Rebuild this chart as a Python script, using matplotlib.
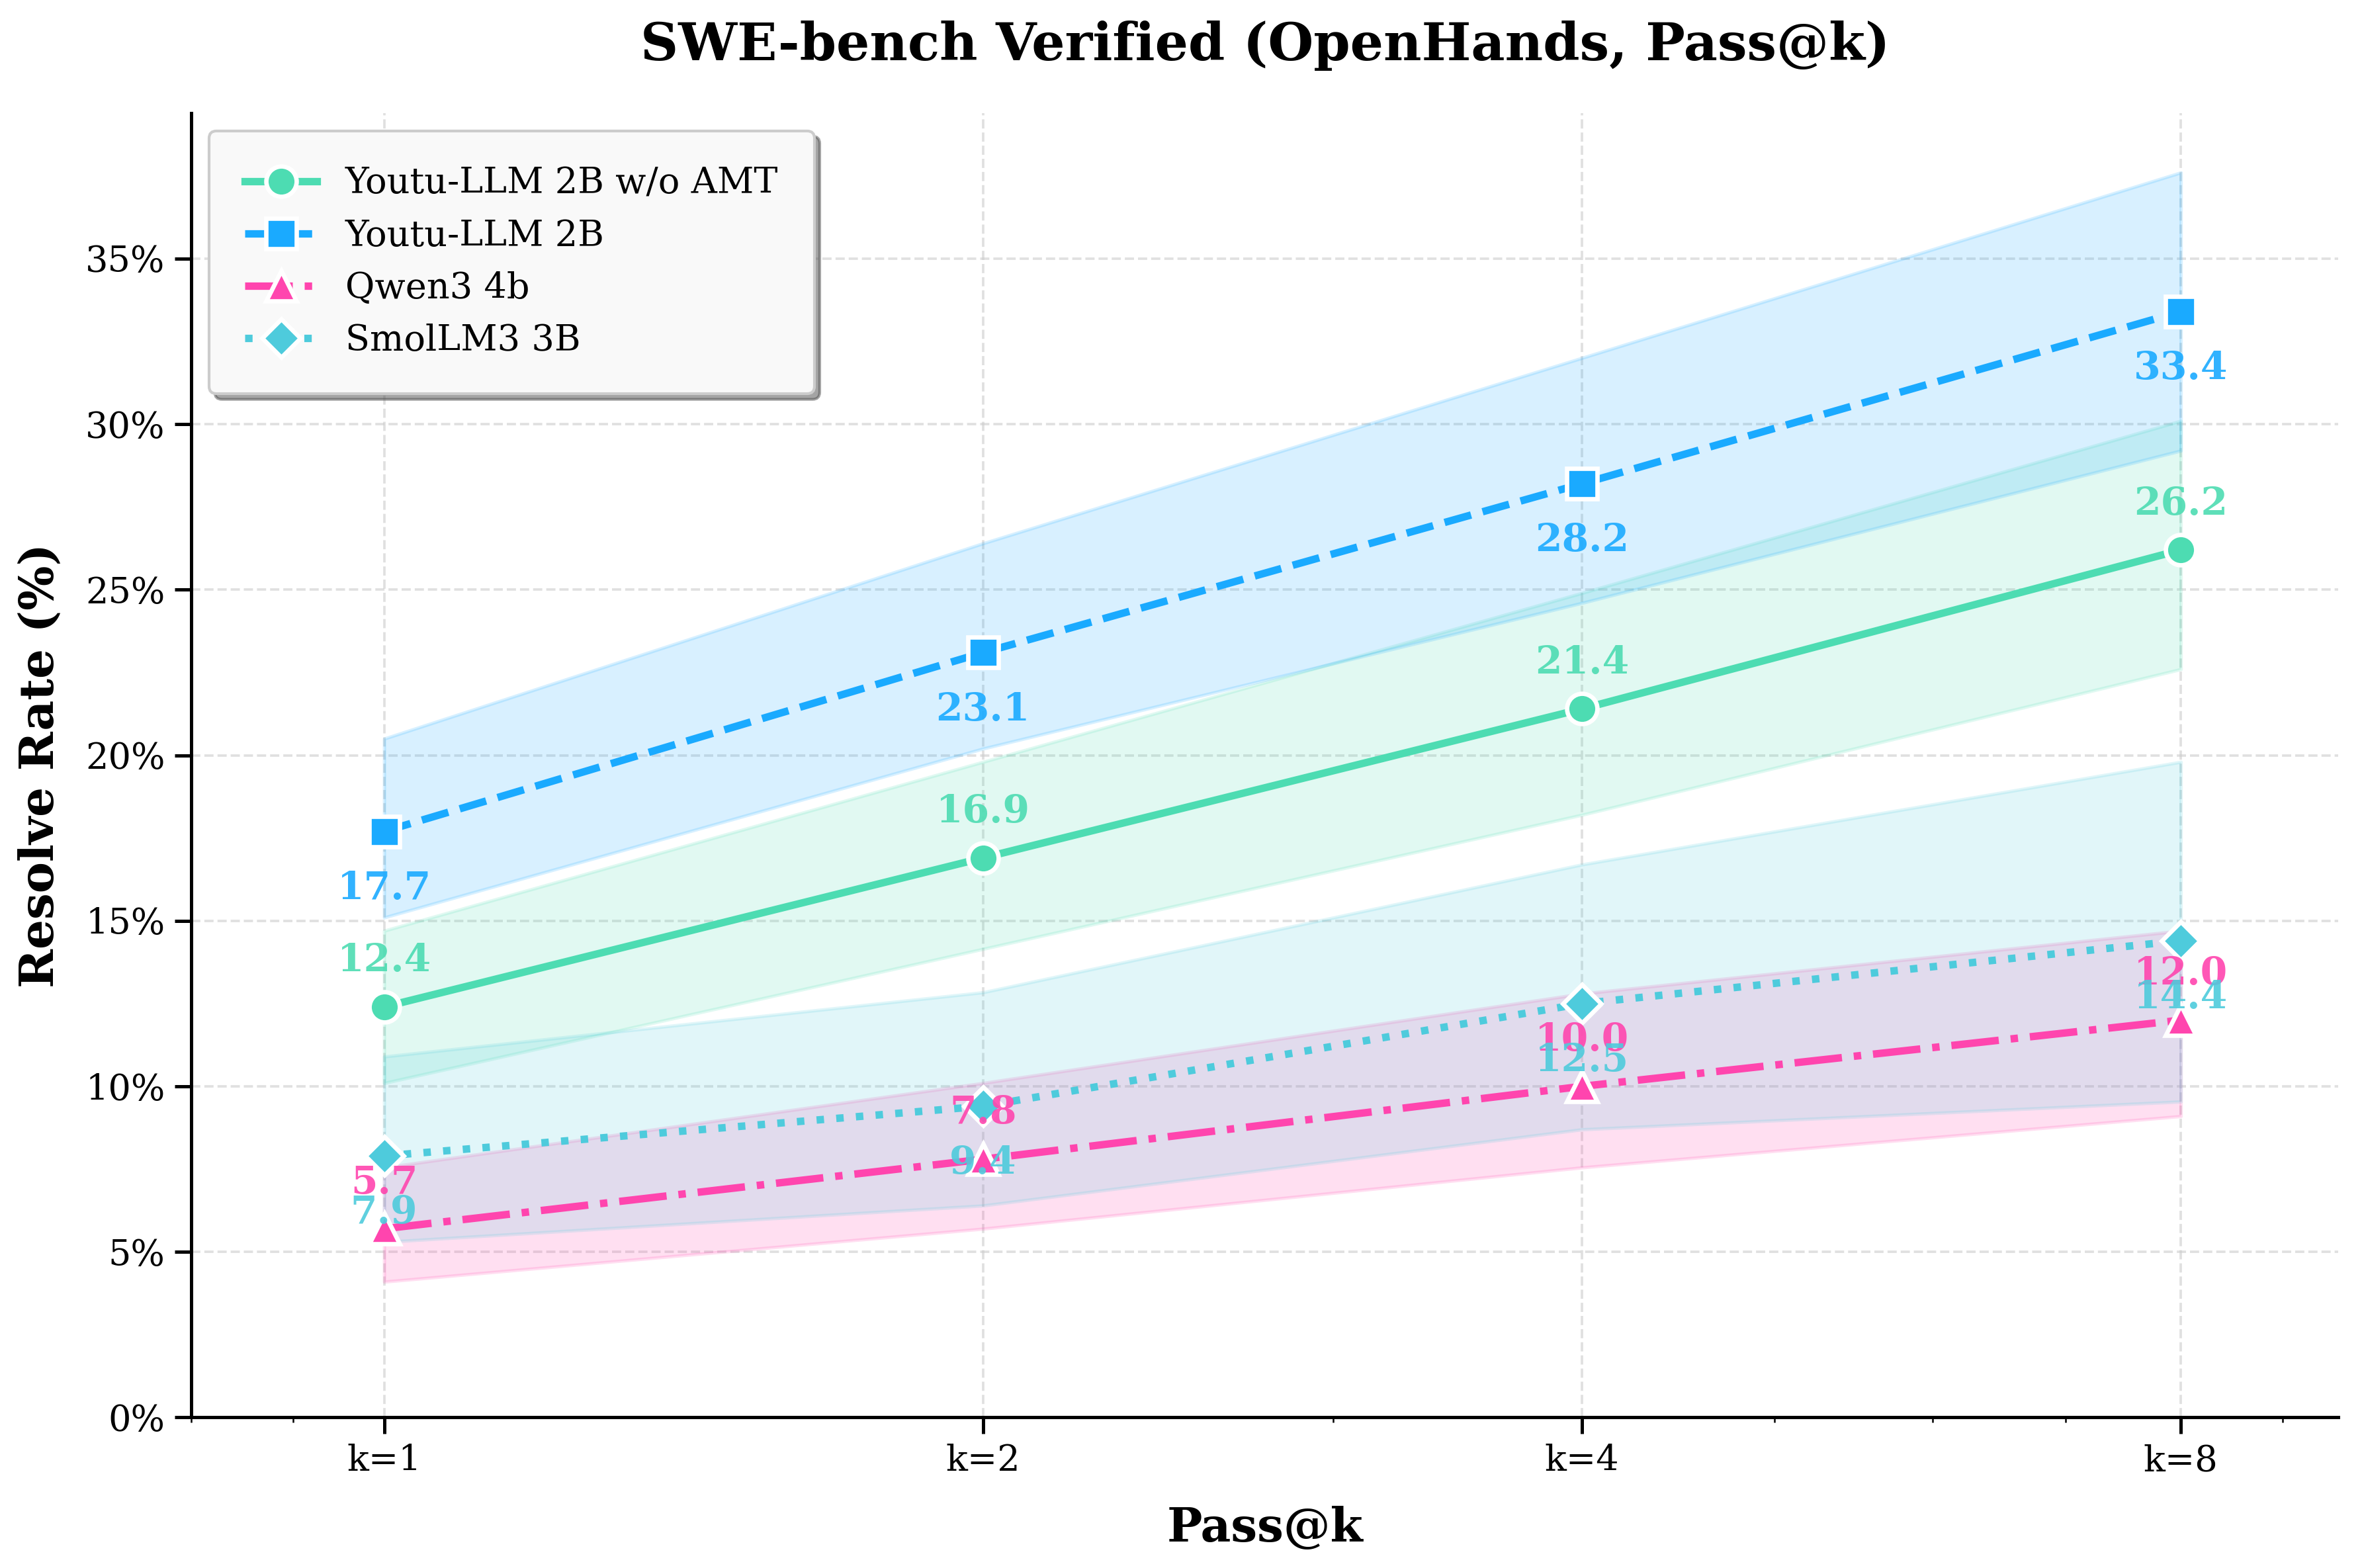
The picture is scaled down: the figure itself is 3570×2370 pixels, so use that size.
import numpy as np
import matplotlib
matplotlib.use("Agg")
import matplotlib.pyplot as plt
from matplotlib.ticker import FuncFormatter, NullFormatter, FixedLocator

plt.rcParams['font.family'] = 'DejaVu Serif'

k_values = [1, 2, 4, 8]
k_labels = ["k=1", "k=2", "k=4", "k=8"]

models = ["Youtu-LLM 2B w/o AMT", "Youtu-LLM 2B", "Qwen3 4b", "SmolLM3 3B"]

amt_free = [12.4, 16.9, 21.4, 26.2]
amt_free_lo = [10.1, 14.15, 18.2, 22.6]
amt_free_hi = [14.7, 19.8, 24.9, 30.1]

youtu = [17.7, 23.1, 28.2, 33.4]
youtu_lo = [15.1, 20.2, 24.6, 29.2]
youtu_hi = [20.5, 26.4, 32.0, 37.6]

qwen = [5.7, 7.8, 10.0, 12.0]
qwen_lo = [4.1, 5.7, 7.55, 9.1]
qwen_hi = [7.55, 10.1, 12.8, 14.7]

smol = [7.9, 9.4, 12.5, 14.4]
smol_lo = [5.3, 6.4, 8.7, 9.54]
smol_hi = [10.9, 12.84, 16.7, 19.8]

series = [amt_free, youtu, qwen, smol]
lows = [amt_free_lo, youtu_lo, qwen_lo, smol_lo]
highs = [amt_free_hi, youtu_hi, qwen_hi, smol_hi]

colors = ['#4ddcb2', '#1aaaff', '#ff45ae', '#4ecbdc']
styles = ['-', '--', '-.', ':']
markers = ['o', 's', '^', 'D']
label_up = [True, False, True, False]

fig, ax = plt.subplots(figsize=(11.9, 7.9), dpi=300)
fig.subplots_adjust(left=0.081, right=0.990, top=0.928, bottom=0.096)

for i in range(len(models)):
    c = colors[i]
    ax.fill_between(k_values, lows[i], highs[i], color=c, alpha=0.17,
                    edgecolor=c, linewidth=1.2)
    ax.plot(k_values, series[i], linestyle=styles[i], marker=markers[i],
            color=c, lw=2.7, markersize=11 if markers[i] != 'D' else 10,
            markeredgecolor='white', markeredgewidth=1.6,
            label=models[i], zorder=3)
    for x, y in zip(k_values, series[i]):
        if label_up[i]:
            ax.annotate(f"{y:.1f}", (x, y), xytext=(0, 10),
                        textcoords='offset points', ha='center', va='bottom',
                        fontsize=14, fontweight='bold', color=c, alpha=0.9,
                        zorder=4)
        else:
            ax.annotate(f"{y:.1f}", (x, y), xytext=(0, -14),
                        textcoords='offset points', ha='center', va='top',
                        fontsize=14, fontweight='bold', color=c, alpha=0.9,
                        zorder=4)

ax.set_xscale('log')
ax.set_xlim(0.8, 9.6)
ax.xaxis.set_major_locator(FixedLocator(k_values))
ax.set_xticklabels(k_labels)
ax.xaxis.set_minor_formatter(NullFormatter())
ax.set_ylim(0, 39.4)
ax.set_yticks(np.arange(0, 36, 5))
ax.yaxis.set_major_formatter(FuncFormatter(lambda v, p: f"{v:.0f}%"))
ax.tick_params(axis='both', labelsize=13, width=1.2, length=6)

ax.grid(True, linestyle='--', color='#cccccc', alpha=0.6, linewidth=0.9)
ax.set_axisbelow(True)
ax.spines['top'].set_visible(False)
ax.spines['right'].set_visible(False)
ax.spines['left'].set_linewidth(1.2)
ax.spines['bottom'].set_linewidth(1.2)

ax.set_title("SWE-bench Verified (OpenHands, Pass@k)", fontsize=19,
             fontweight='bold', pad=19)
ax.set_xlabel("Pass@k", fontsize=17, fontweight='bold', labelpad=10)
ax.set_ylabel("Resolve Rate (%)", fontsize=17, fontweight='bold', labelpad=8)

leg = ax.legend(loc='upper left', fontsize=13, frameon=True, shadow=True,
                fancybox=True, framealpha=1.0, borderpad=1.0, labelspacing=0.5)
leg.get_frame().set_edgecolor('#cccccc')
leg.get_frame().set_facecolor('#f9f9f9')

fig.savefig("out.png", dpi=300)
